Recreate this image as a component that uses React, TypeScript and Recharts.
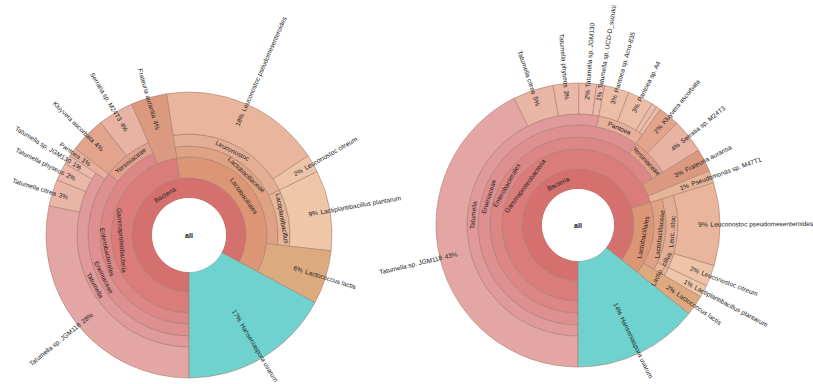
import { PieChart, Pie, Cell } from 'recharts';

const FONT = '"Liberation Sans", Arial, sans-serif';
const FS = 6.5;
const STROKE = '#a77d6e';
const INK = '#222';
const RAD = Math.PI / 180;

// ring edges (px) per depth level
const LEFT_RINGS = [37, 57, 67, 78, 89, 101, 112, 143];
const RIGHT_RINGS = [36, 56, 66, 76, 88, 100, 111, 142];

// which rings each inner taxon covers (collapsed single-child ranks share rings)
const LEVELS: Record<string, number[]> = {
  Bacteria: [0, 1],
  Gammaproteobacteria: [1, 3],
  Lactobacillales: [1, 3],
  Enterobacterales: [3, 4],
  Lactobacillaceae: [3, 4],
  Erwiniaceae: [4, 5],
  Yersiniaceae: [4, 5],
  Leuconostoc: [4, 5],
  Lactiplantibacillus: [4, 5],
  Tatumella: [5, 6],
  Pantoea: [5, 6],
};

const COLORS: Record<string, string> = {
  Bacteria: '#d4706d',
  Gammaproteobacteria: '#d97c7a',
  Enterobacterales: '#dc8685',
  Erwiniaceae: '#de8f90',
  Tatumella: '#e19a9b',
  Pantoea: '#e8b09c',
  Yersiniaceae: '#e0a08c',
  Lactobacillales: '#dc9676',
  Lactobacillaceae: '#e0a284',
  Leuconostoc: '#e4ae94',
  Lactiplantibacillus: '#e6b698',
  'Tatumella sp. JGM118': '#e4a6a4',
  'Tatumella citrea': '#e9b5a5',
  'Tatumella physeos': '#eab7a8',
  'Tatumella sp. JGM130': '#ebbaaa',
  'Tatumella sp. UCD-D_suzukii': '#ebbaaa',
  'Pantoea sp. Acro-835': '#ecbea8',
  'Pantoea sp. A4': '#ecbea8',
  'Kluyvera ascorbata': '#e3a48e',
  'Serratia sp. M24T3': '#e8b3a2',
  'Frateuria aurantia': '#db9a80',
  'Pseudomonas sp. M47T1': '#e6b496',
  'Leuconostoc pseudomesenteroides': '#e9b59c',
  'Leuconostoc citreum': '#edc4aa',
  'Lactiplantibacillus plantarum': '#eec6a8',
  'Lactococcus lactis': '#ddaa80',
  'Hanseniaspora uvarum': '#6fd2cf',
};

const GAMMA = ['Bacteria', 'Gammaproteobacteria'];
const ENTERO = [...GAMMA, 'Enterobacterales'];
const ERWIN = [...ENTERO, 'Erwiniaceae'];
const TATUM = [...ERWIN, 'Tatumella'];
const PANTO = [...ERWIN, 'Pantoea'];
const YERS = [...ENTERO, 'Yersiniaceae'];
const LACTO = ['Bacteria', 'Lactobacillales'];
const LEUCO = [...LACTO, 'Lactobacillaceae', 'Leuconostoc'];
const LACTIP = [...LACTO, 'Lactobacillaceae', 'Lactiplantibacillus'];

// left sample
const leftSpecies = [
  'Tatumella sp. JGM118', 'Tatumella citrea', 'Tatumella physeos', 'Tatumella sp. JGM130',
  'Pantoea', 'Kluyvera ascorbata', 'Serratia sp. M24T3', 'Frateuria aurantia',
  'Leuconostoc pseudomesenteroides', 'Leuconostoc citreum', 'Lactiplantibacillus plantarum',
  'Lactococcus lactis', 'Hanseniaspora uvarum',
];
const leftShare = [28, 3, 2, 1, 1, 4, 4, 4, 18, 2, 9, 6, 17];
const leftLineage = [TATUM, TATUM, TATUM, TATUM, ERWIN, YERS, YERS, GAMMA, LEUCO, LEUCO, LACTIP, LACTO, []];

// right sample
const rightSpecies = [
  'Tatumella sp. JGM118', 'Tatumella citrea', 'Tatumella physeos', 'Tatumella sp. JGM130',
  'Tatumella sp. UCD-D_suzukii', 'Pantoea sp. Acro-835', 'Pantoea sp. A4', '', '',
  'Kluyvera ascorbata', 'Serratia sp. M24T3', 'Frateuria aurantia', 'Pseudomonas sp. M47T1',
  'Leuconostoc pseudomesenteroides', 'Leuconostoc citreum', 'Lactiplantibacillus plantarum',
  'Lactococcus lactis', 'Hanseniaspora uvarum',
];
const rightShare = [42.4, 4.6, 2.9, 2.0, 0.9, 2.8, 2.9, 0.6, 0.5, 2.4, 3.9, 2.6, 1.4, 9.4, 2.4, 1.4, 2.3, 14.2];
const rightLineage = [
  TATUM, TATUM, TATUM, TATUM, TATUM, PANTO, PANTO, PANTO, PANTO, YERS, YERS, GAMMA, GAMMA,
  LEUCO, LEUCO, LACTIP, LACTO, [],
];
const rightShort: Record<string, string> = { Leuconostoc: 'Leuc...stoc', Lactiplantibacillus: 'Lactip...cillus' };

function buildRings(species: string[], share: number[], lineage: string[][], short: Record<string, string>) {
  const total = share.reduce((a, b) => a + b, 0);
  const segs: any[] = [];
  const open: Record<string, any> = {};
  let pos = 0;
  species.forEach((sp, i) => {
    const path = lineage[i];
    let key = '';
    path.forEach((taxon) => {
      key += '/' + taxon;
      if (!open[key]) {
        open[key] = {
          name: taxon, caption: short[taxon] ?? taxon, from: pos, value: 0,
          l0: LEVELS[taxon][0], l1: LEVELS[taxon][1], isLeaf: false, tone: COLORS[taxon],
        };
        segs.push(open[key]);
      }
      open[key].value += share[i];
    });
    const l0 = path.length ? LEVELS[path[path.length - 1]][1] : 0;
    segs.push({
      name: sp || `minor-${i}`, caption: sp, from: pos, value: share[i], l0, l1: 7, isLeaf: true,
      tone: COLORS[sp] ?? '#ebbcaa', pct: Math.round((share[i] / total) * 100),
    });
    pos += share[i];
  });
  const bands: Record<string, any> = {};
  segs.forEach((s) => {
    const k = `${s.l0}-${s.l1}`;
    if (!bands[k]) bands[k] = { l0: s.l0, l1: s.l1, items: [] };
    bands[k].items.push(s);
  });
  return Object.values(bands).map((b: any) => {
    const data: any[] = [];
    let cursor = 0;
    b.items.sort((x: any, y: any) => x.from - y.from).forEach((s: any) => {
      if (s.from - cursor > 1e-6) data.push({ name: 'gap', value: s.from - cursor, isGap: true });
      data.push(s);
      cursor = s.from + s.value;
    });
    if (total - cursor > 1e-6) data.push({ name: 'gap', value: total - cursor, isGap: true });
    return { l0: b.l0, l1: b.l1, data };
  });
}

const textStyle = { fontFamily: FONT, fontSize: FS, fill: INK, stroke: 'none' };

function sunLabel(props: any) {
  const d = props.payload ?? props;
  if (!d || d.isGap || !d.caption) return null;
  const { cx, cy, midAngle, innerRadius, outerRadius } = props;
  const ux = Math.cos(midAngle * RAD);
  const uy = -Math.sin(midAngle * RAD);
  const mid = (innerRadius + outerRadius) / 2;
  if (d.isLeaf) {
    const pct = `${d.pct}%`;
    const rp = mid + 4;
    const rn = rp + (pct.length * 0.55 * FS) / 2 + 4;
    const right = ux >= 0;
    const rot = right ? -midAngle : 180 - midAngle;
    const px = cx + rp * ux, py = cy + rp * uy;
    const nx = cx + rn * ux, ny = cy + rn * uy;
    return (
      <g>
        <text x={px} y={py} transform={`rotate(${rot} ${px} ${py})`} textAnchor="middle" dominantBaseline="central" style={textStyle}>
          {pct}
        </text>
        <text x={nx} y={ny} transform={`rotate(${rot} ${nx} ${ny})`} textAnchor={right ? 'start' : 'end'} dominantBaseline="central" style={textStyle}>
          {d.caption}
        </text>
      </g>
    );
  }
  let rot = ((((90 - midAngle) % 360) + 540) % 360) - 180;
  if (rot > 90) rot -= 180;
  if (rot <= -90) rot += 180;
  const tx = cx + mid * ux, ty = cy + mid * uy;
  return (
    <text x={tx} y={ty} transform={`rotate(${rot} ${tx} ${ty})`} textAnchor="middle" dominantBaseline="central" style={textStyle}>
      {d.caption}
    </text>
  );
}

function centerLabel(props: any) {
  return (
    <text
      x={props.cx}
      y={props.cy}
      textAnchor="middle"
      dominantBaseline="central"
      style={{ fontFamily: FONT, fontSize: 7, fontWeight: 'bold', fill: '#111', stroke: 'none' }}
    >
      all
    </text>
  );
}

export default function App() {
  const charts = [
    { id: 'l', cx: 184, cy: 230, rings: LEFT_RINGS, bands: buildRings(leftSpecies, leftShare, leftLineage, {}) },
    { id: 'r', cx: 573, cy: 220, rings: RIGHT_RINGS, bands: buildRings(rightSpecies, rightShare, rightLineage, rightShort) },
  ];
  return (
    <div style={{ position: 'absolute', left: 0, top: 0, background: '#fff' }}>
      <PieChart width={813} height={384}>
        {charts.flatMap((c) => [
          ...c.bands.map((b) => (
            <Pie
              key={`${c.id}-${b.l0}-${b.l1}`}
              data={b.data}
              dataKey="value"
              cx={c.cx}
              cy={c.cy}
              innerRadius={c.rings[b.l0]}
              outerRadius={c.rings[b.l1]}
              startAngle={-90}
              endAngle={-450}
              isAnimationActive={false}
              label={sunLabel}
              labelLine={false}
              strokeWidth={0.6}
            >
              {b.data.map((d: any, i: number) => (
                <Cell key={i} fill={d.isGap ? 'none' : d.tone} stroke={d.isGap ? 'none' : STROKE} />
              ))}
            </Pie>
          )),
          <Pie
            key={`${c.id}-all`}
            data={[{ name: 'all', value: 1 }]}
            dataKey="value"
            cx={c.cx}
            cy={c.cy}
            innerRadius={0}
            outerRadius={c.rings[0]}
            fill="#fff"
            stroke="none"
            isAnimationActive={false}
            label={centerLabel}
            labelLine={false}
          />,
        ])}
      </PieChart>
    </div>
  );
}
